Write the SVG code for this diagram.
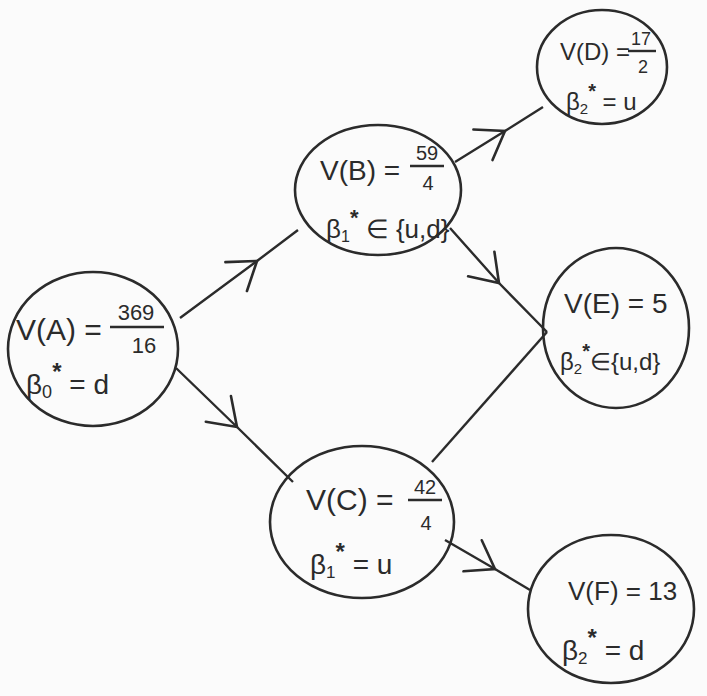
<svg xmlns="http://www.w3.org/2000/svg" width="707" height="696" viewBox="0 0 707 696">
<defs>
<style>
.bg{fill:#fbfbfb}
.node{fill:none;stroke:#2b2b2b;stroke-width:2.6}
.edge{fill:none;stroke:#2b2b2b;stroke-width:2.4}
.t{font-family:"Liberation Sans",Arial,sans-serif;fill:#2b2b2b}
.frac{stroke:#2b2b2b;stroke-width:2.4}
.ast{font-weight:bold}
</style>
<marker id="chev" markerUnits="userSpaceOnUse" markerWidth="40" markerHeight="40" viewBox="-30 -20 34 40" refX="0" refY="0" orient="auto">
<path d="M -26 -18 L 0 0 L -26 18" fill="none" stroke="#2b2b2b" stroke-width="2.6" stroke-linecap="round"/>
</marker>
</defs>
<rect class="bg" x="0" y="0" width="707" height="696"/>

<g id="connectors">
<path class="edge" d="M 180 318 L 257 261 L 298 230" marker-mid="url(#chev)"/>
<path class="edge" d="M 176 368 L 237 427 L 293 482" marker-mid="url(#chev)"/>
<path class="edge" d="M 455 162 L 505 131 L 543 107" marker-mid="url(#chev)"/>
<path class="edge" d="M 450 228 L 499 283 L 547 332" marker-mid="url(#chev)"/>
<path class="edge" d="M 432 462 L 547 332"/>
<path class="edge" d="M 445 540 L 495 569 L 530 590" marker-mid="url(#chev)"/>
</g>

<g id="node-A">
<ellipse class="node" cx="93" cy="349" rx="85" ry="77"/>
<text class="t" x="16" y="340" font-size="30">V(A) =</text>
<text class="t" x="136" y="320" font-size="22" text-anchor="middle">369</text>
<line class="frac" x1="110" y1="327" x2="164" y2="327"/>
<text class="t" x="144" y="353" font-size="22" text-anchor="middle">16</text>
<text class="t" x="26" y="394" font-size="28">β<tspan font-size="18" dy="4">0</tspan><tspan class="ast" font-size="24" dy="-18">*</tspan><tspan dy="14"> = d</tspan></text>
</g>

<g id="node-B">
<ellipse class="node" cx="378" cy="190" rx="83" ry="65"/>
<text class="t" x="320" y="180" font-size="28">V(B) =</text>
<text class="t" x="427" y="160" font-size="20" text-anchor="middle">59</text>
<line class="frac" x1="410" y1="166" x2="444" y2="166"/>
<text class="t" x="428" y="190" font-size="20" text-anchor="middle">4</text>
<text class="t" x="326" y="238" font-size="26">β<tspan font-size="16" dy="4">1</tspan><tspan class="ast" font-size="22" dy="-17">*</tspan><tspan dy="13"> ∈ {u,d}</tspan></text>
</g>

<g id="node-D">
<ellipse class="node" cx="602" cy="67" rx="65" ry="57"/>
<text class="t" x="560" y="60" font-size="24">V(D) =</text>
<text class="t" x="641" y="45" font-size="18" text-anchor="middle">17</text>
<line class="frac" x1="628" y1="51" x2="656" y2="51"/>
<text class="t" x="643" y="73" font-size="18" text-anchor="middle">2</text>
<text class="t" x="566" y="110" font-size="24">β<tspan font-size="15" dy="4">2</tspan><tspan class="ast" font-size="20" dy="-16">*</tspan><tspan dy="12"> = u</tspan></text>
</g>

<g id="node-E">
<ellipse class="node" cx="616" cy="328" rx="73" ry="80"/>
<text class="t" x="564" y="313" font-size="28">V(E) = 5</text>
<text class="t" x="560" y="370" font-size="24">β<tspan font-size="15" dy="4">2</tspan><tspan class="ast" font-size="20" dy="-16">*</tspan><tspan dy="12">∈{u,d}</tspan></text>
</g>

<g id="node-C">
<ellipse class="node" cx="362" cy="522" rx="92" ry="76"/>
<text class="t" x="306" y="510" font-size="30">V(C) =</text>
<text class="t" x="425" y="494" font-size="20" text-anchor="middle">42</text>
<line class="frac" x1="408" y1="500" x2="442" y2="500"/>
<text class="t" x="426" y="530" font-size="20" text-anchor="middle">4</text>
<text class="t" x="310" y="574" font-size="28">β<tspan font-size="17" dy="4">1</tspan><tspan class="ast" font-size="24" dy="-18">*</tspan><tspan dy="14"> = u</tspan></text>
</g>

<g id="node-F">
<ellipse class="node" cx="611" cy="609" rx="83" ry="74"/>
<text class="t" x="568" y="600" font-size="26">V(F) = 13</text>
<text class="t" x="562" y="660" font-size="28">β<tspan font-size="17" dy="4">2</tspan><tspan class="ast" font-size="24" dy="-18">*</tspan><tspan dy="14"> = d</tspan></text>
</g>
</svg>
